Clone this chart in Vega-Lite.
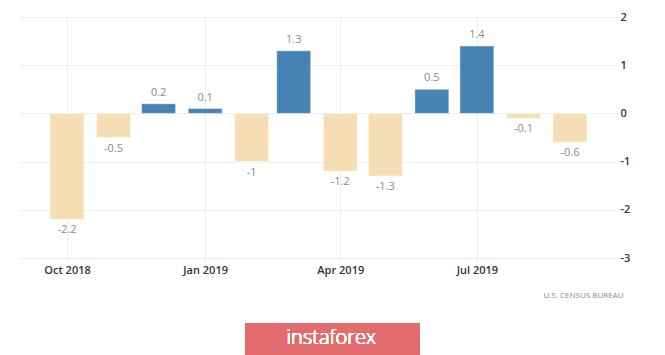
{
  "$schema": "https://vega.github.io/schema/vega-lite/v6.json",
  "autosize": "none",
  "width": 597,
  "height": 241,
  "padding": {"left": 20, "top": 17, "right": 48, "bottom": 97},
  "background": "white",
  "config": {
    "view": {"stroke": null},
    "font": "Open Sans",
    "locale": {"number": {"decimal": ".", "thousands": ",", "grouping": [3], "currency": ["$", ""], "minus": "-"}}
  },
  "data": {
    "values": [
      {"date": "2018-10-01", "value": -2.2},
      {"date": "2018-11-01", "value": -0.5},
      {"date": "2018-12-01", "value": 0.2},
      {"date": "2019-01-01", "value": 0.1},
      {"date": "2019-02-01", "value": -1},
      {"date": "2019-03-01", "value": 1.3},
      {"date": "2019-04-01", "value": -1.2},
      {"date": "2019-05-01", "value": -1.3},
      {"date": "2019-06-01", "value": 0.5},
      {"date": "2019-07-01", "value": 1.4},
      {"date": "2019-08-01", "value": -0.1},
      {"date": "2019-09-01", "value": -0.6}
    ]
  },
  "encoding": {
    "x": {
      "field": "date",
      "type": "temporal",
      "scale": {"domain": ["2018-09-03", "2019-09-29"]},
      "axis": {
        "title": "U.S. CENSUS BUREAU",
        "titleAnchor": "end",
        "titleAlign": "right",
        "titleFontSize": 8,
        "titleFontWeight": "normal",
        "titleColor": "#8a8a8a",
        "titlePadding": 16,
        "titleX": 603,
        "values": ["2018-10-01", "2019-01-01", "2019-04-01", "2019-07-01"],
        "format": "%b %Y",
        "domain": false,
        "grid": true,
        "gridColor": "#dcdcdc",
        "gridDash": [1, 1],
        "tickColor": "#dcdcdc",
        "tickDash": [1, 1],
        "tickSize": 3,
        "labelPadding": 3,
        "labelFontSize": 11,
        "labelFontWeight": 600,
        "labelColor": "#333333"
      }
    },
    "y": {
      "field": "value",
      "type": "quantitative",
      "scale": {"domain": [-3, 2], "nice": false},
      "axis": {
        "title": null,
        "orient": "right",
        "values": [-3, -2, -1, 0, 1, 2],
        "domain": false,
        "ticks": false,
        "grid": true,
        "gridColor": "#dcdcdc",
        "gridDash": [1, 1],
        "labelPadding": 3,
        "labelFontSize": 11,
        "labelFontWeight": 600,
        "labelColor": "#333333"
      }
    }
  },
  "layer": [
    {
      "mark": {"type": "bar", "size": 34, "stroke": "white", "strokeOpacity": 0.5, "strokeWidth": 1},
      "encoding": {
        "color": {"condition": {"test": "datum.value > 0", "value": "#4682b4"}, "value": "#f5deb3"}
      }
    },
    {
      "transform": [{"filter": "datum.value > 0"}],
      "mark": {"type": "text", "dy": -11, "fontSize": 11, "color": "#8a8a8a", "baseline": "middle"},
      "encoding": {"text": {"field": "value", "type": "quantitative", "format": "~g"}}
    },
    {
      "transform": [{"filter": "datum.value <= 0"}],
      "mark": {"type": "text", "dy": 11, "fontSize": 11, "color": "#8a8a8a", "baseline": "middle"},
      "encoding": {"text": {"field": "value", "type": "quantitative", "format": "~g"}}
    },
    {
      "mark": {"type": "rect", "fill": "#e46b6d", "clip": false},
      "encoding": {
        "x": {"datum": {"year": 2019, "month": "jan", "date": 27, "hours": 14}, "type": "temporal"},
        "x2": {"datum": {"year": 2019, "month": "may", "date": 24}},
        "y": {"datum": -4.36, "type": "quantitative"},
        "y2": {"datum": -5.0}
      }
    },
    {
      "mark": {"type": "text", "color": "white", "fontSize": 20, "font": "Open Sans", "fontWeight": 300, "align": "center", "baseline": "middle", "clip": false},
      "encoding": {
        "x": {"datum": {"year": 2019, "month": "mar", "date": 26}, "type": "temporal"},
        "y": {"datum": -4.67, "type": "quantitative"},
        "text": {"value": "instaforex"}
      }
    }
  ]
}
